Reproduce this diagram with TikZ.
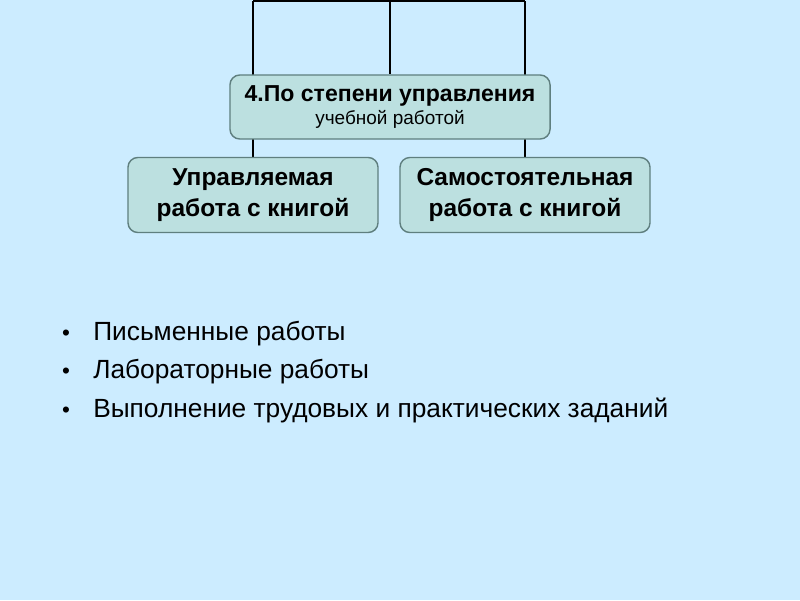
\documentclass[tikz,border=0pt]{standalone}
\usepackage{fontspec}
\setmainfont{Liberation Sans}
\usetikzlibrary{backgrounds}
\definecolor{SlideBackground}{HTML}{CCECFF}
\definecolor{LevelFill}{HTML}{BCE0E0}
\definecolor{LevelBorder}{HTML}{5F7F7F}

\begin{document}
\begin{tikzpicture}[x=0.025cm,y=-0.025cm,
    levelbox/.style={draw=LevelBorder,fill=LevelFill,line width=1pt,rounded corners=7pt,
      align=center,inner sep=0pt},
    branch/.style={black,line width=1.4pt}]
  \useasboundingbox (0,0) rectangle (800,600);
  % level boxes
  \node[levelbox,minimum width=8cm,minimum height=1.6cm] (level) at (390,107)
    {{\bfseries\fontsize{16.4}{19}\selectfont 4.По степени управления}\\[2pt]
     {\fontsize{13.5}{15.6}\selectfont учебной работой}};
  \node[levelbox,minimum width=6.25cm,minimum height=1.875cm,
    font=\bfseries\fontsize{17.4}{21}\selectfont] (guided) at (253,195)
    {Управляемая\\[1.5pt]работа с книгой};
  \node[levelbox,minimum width=6.25cm,minimum height=1.875cm,
    font=\bfseries\fontsize{17.4}{21}\selectfont] (selfwork) at (525,195)
    {Самостоятельная\\[1.5pt]работа с книгой};
  \coordinate (topleft) at (253,1);
  \coordinate (topmid) at (390,1);
  \coordinate (topright) at (525,1);
  % tree lines behind the boxes
  \begin{scope}[on background layer]
    \fill[SlideBackground] (0,0) rectangle (800,600);
    \draw[branch] (topleft) -- (topright);
    \draw[branch] (topleft) -- (guided.north);
    \draw[branch] (topright) -- (selfwork.north);
    \draw[branch] (topmid) -- (level.north);
  \end{scope}
  % bullet list
  \foreach \i/\txt in {1/Письменные работы,2/Лабораторные работы,
      3/Выполнение трудовых и практических заданий}{
    \node[anchor=base west,inner sep=0pt,font=\fontsize{18.7}{22}\selectfont]
      (item\i) at (93,301.5+38.5*\i) {\txt};
    \node[anchor=base,inner sep=0pt,font=\fontsize{16}{18}\selectfont]
      (dot\i) at (66,301.5+38.5*\i) {•};
  }
\end{tikzpicture}
\end{document}
